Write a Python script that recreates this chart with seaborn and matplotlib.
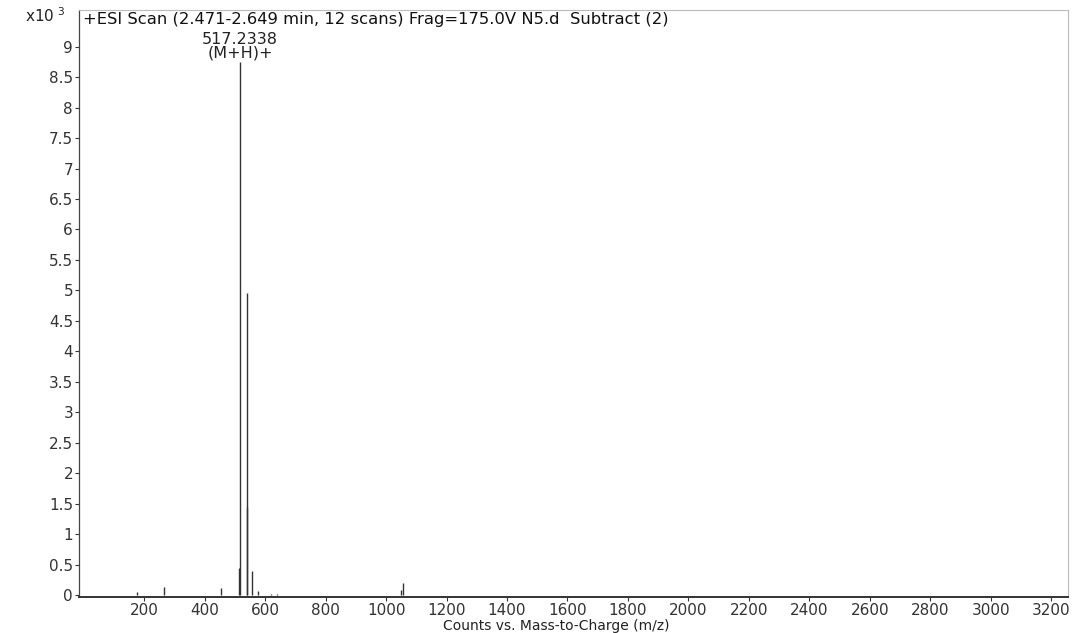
import matplotlib
matplotlib.use("Agg")
import matplotlib.pyplot as plt
import seaborn as sns
import numpy as np

# peak list (m/z, counts x10^3)
mz = [175, 264, 453, 513, 517.2338, 539.2, 540.2, 555.2, 577, 618, 640, 1050, 1055.4]
counts = [0.05, 0.14, 0.12, 0.45, 8.75, 4.95, 1.45, 0.4, 0.07, 0.02, 0.02, 0.08, 0.2]

x_ticks = [200, 400, 600, 800, 1000, 1200, 1400, 1600, 1800, 2000,
           2200, 2400, 2600, 2800, 3000, 3200]
y_ticks = [0, 0.5, 1, 1.5, 2, 2.5, 3, 3.5, 4, 4.5, 5, 5.5, 6, 6.5, 7, 7.5, 8, 8.5, 9]

title = "+ESI Scan (2.471-2.649 min, 12 scans) Frag=175.0V N5.d  Subtract (2)"
peak_label = "517.2338\n(M+H)+"

sns.set_style("white")
plt.rcParams['font.family'] = ['DejaVu Sans']

fig = plt.figure(figsize=(10.72, 6.33), dpi=100)
ax = fig.add_axes([0.074, 0.057, 0.922, 0.927])

ax.vlines(mz, 0, counts, color='#333333', linewidth=1.0)

ax.set_xlim(-15, 3255)
ax.set_ylim(-0.03, 9.6)
ax.set_xticks(x_ticks)
ax.set_yticks(y_ticks)
ax.set_yticklabels([('%g' % v) for v in y_ticks])
ax.tick_params(axis='both', direction='out', length=3, width=0.8,
               labelsize=11, colors='#333333', pad=1.5)
ax.tick_params(axis='both', which='both', bottom=True, left=True)

for side in ['top', 'right']:
    ax.spines[side].set_color('#bbbbbb')
    ax.spines[side].set_linewidth(0.8)
ax.spines['left'].set_color('#444444')
ax.spines['left'].set_linewidth(0.9)
ax.spines['bottom'].set_color('#333333')
ax.spines['bottom'].set_linewidth(1.4)

# title inside the frame, top-left
ax.text(0.004, 0.997, title, transform=ax.transAxes, ha='left', va='top',
        fontsize=11.8, color='#111111')

# label above the base peak
ax.annotate(peak_label, xy=(mz[4], counts[4]), xytext=(0, 1),
            textcoords='offset points', ha='center', va='bottom',
            fontsize=11.5, color='#222222', linespacing=0.85)

# scale marker left of the frame
fig.text(0.023, 0.975, r"x10$^{\ 3}$", ha='left', va='center', fontsize=11,
         color='#222222')

# axis title, at the very bottom edge
fig.text(0.519, 0.0, "Counts vs. Mass-to-Charge (m/z)", ha='center',
         va='bottom', fontsize=10, color='#222222')

fig.savefig("out.png", dpi=100)
